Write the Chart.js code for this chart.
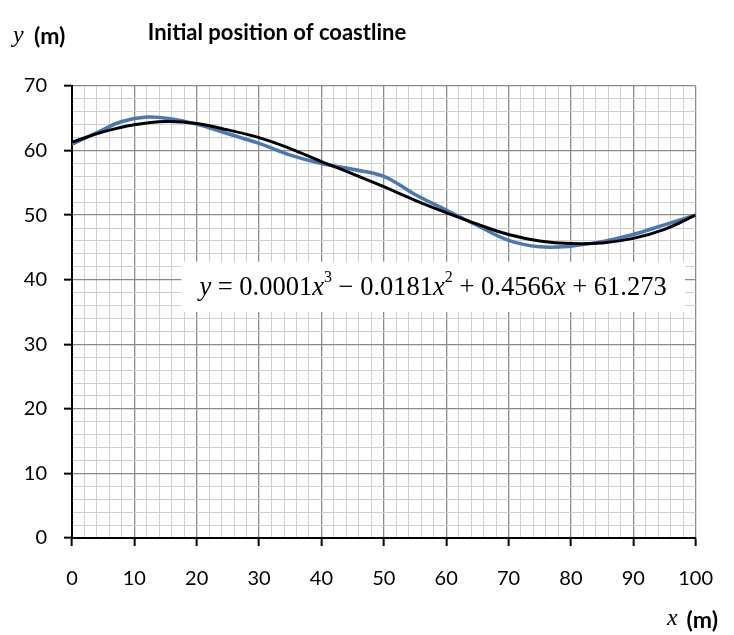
<!DOCTYPE html>
<html>
<head>
<meta charset="utf-8">
<script src="https://cdn.jsdelivr.net/npm/chart.js@4.4.0/dist/chart.umd.min.js"></script>
<style>
html,body{margin:0;padding:0;background:#fff;}
#wrap{position:relative;width:734px;height:635px;}
</style>
</head>
<body>
<div id="wrap"><canvas id="c" width="734" height="635"></canvas></div>
<script>
// Measured coastline (blue)
const measuredX = [0, 4, 8, 12, 16, 20, 25, 30, 35, 40, 45, 50, 55, 60, 65, 70, 75, 80, 85, 90, 95, 100];
const measuredY = [61.0, 62.8, 64.5, 65.2, 64.9, 64.1, 62.6, 61.1, 59.3, 58.0, 57.1, 56.0, 53.2, 50.8, 48.4, 46.1, 45.1, 45.2, 45.9, 47.0, 48.5, 50.0];
// Cubic trend line (black)
const trendX = [0, 5, 10, 15, 20, 25, 30, 35, 40, 45, 50, 55, 60, 65, 70, 75, 80, 85, 90, 95, 100];
const trendY = [61.3, 62.9, 64.0, 64.5, 64.2, 63.2, 62.0, 60.3, 58.3, 56.4, 54.4, 52.3, 50.4, 48.6, 47.0, 46.0, 45.6, 45.7, 46.4, 47.8, 50.0];
const xTickLabels = [0, 10, 20, 30, 40, 50, 60, 70, 80, 90, 100];
const yTickLabels = [0, 10, 20, 30, 40, 50, 60, 70];
const titleText = 'Initial position of coastline';
const equationParts = [
  ['y', 'i'], [' = 0.0001', 'r'], ['x', 'i'], ['3', 's'], [' \u2212 0.0181', 'r'], ['x', 'i'], ['2', 's'],
  [' + 0.4566', 'r'], ['x', 'i'], [' + 61.273', 'r']
];

const toPts = (xs, ys) => xs.map((x, i) => ({x: x, y: ys[i]}));

const SANS = 'Lato, "Open Sans", sans-serif';
const SERIF = '"Liberation Serif", "DejaVu Serif", serif';

const isMajor = (ctx) => Math.round(ctx.tick ? ctx.tick.value : 0) % 10 === 0;
const gridColor = (ctx) => isMajor(ctx) ? '#8a8a8a' : '#d0d0d0';
const gridWidth = (ctx) => isMajor(ctx) ? 1.3 : 1;
const tickColor = (ctx) => isMajor(ctx) ? '#000' : 'rgba(0,0,0,0)';

const textPlugin = {
  id: 'texts',
  afterDraw(chart) {
    const c = chart.ctx;
    c.save();
    c.fillStyle = '#000';
    c.textBaseline = 'middle';
    // title
    c.font = 'bold 22px ' + SANS;
    c.textAlign = 'center';
    c.fillText(titleText, 277, 33);
    // y axis title
    c.textAlign = 'left';
    c.font = 'italic 24px ' + SERIF;
    c.fillText('y', 13, 36);
    c.font = 'bold 23px ' + SANS;
    c.fillText('(m)', 34, 37);
    // x axis title
    c.font = 'bold 23px ' + SANS;
    const wm = c.measureText('(m)').width;
    c.fillText('(m)', 718 - wm, 621);
    c.font = 'italic 24px ' + SERIF;
    const wx = c.measureText('x').width;
    c.fillText('x', 718 - wm - 9 - wx, 619);
    // equation box
    const xs = chart.scales.x, ys = chart.scales.y;
    const bx = xs.getPixelForValue(17.5), bx2 = xs.getPixelForValue(98.3);
    const by = ys.getPixelForValue(42.8), by2 = ys.getPixelForValue(35);
    c.fillStyle = '#fff';
    c.fillRect(bx, by, bx2 - bx, by2 - by);
    c.fillStyle = '#000';
    const fonts = {i: 'italic 26.5px ' + SERIF, r: '26.5px ' + SERIF, s: '16px ' + SERIF};
    let total = 0;
    equationParts.forEach(p => { c.font = fonts[p[1]]; total += c.measureText(p[0]).width; });
    let cx = (bx + bx2) / 2 - total / 2;
    const cy = (by + by2) / 2 + 1;
    equationParts.forEach(p => {
      c.font = fonts[p[1]];
      c.fillText(p[0], cx, p[1] === 's' ? cy - 10 : cy);
      cx += c.measureText(p[0]).width;
    });
    c.restore();
  }
};

new Chart(document.getElementById('c'), {
  type: 'line',
  data: {
    datasets: [
      {
        label: 'Trend',
        data: toPts(trendX, trendY),
        borderColor: '#000000',
        borderWidth: 3,
        pointRadius: 0,
        tension: 0.4,
        fill: false,
        order: 0
      },
      {
        label: 'Coastline',
        data: toPts(measuredX, measuredY),
        borderColor: '#4a78b0',
        borderWidth: 3.5,
        pointRadius: 0,
        tension: 0.4,
        fill: false,
        order: 1
      }
    ]
  },
  options: {
    responsive: false,
    animation: false,
    devicePixelRatio: 1,
    layout: {padding: {left: 0, right: 35, top: 86, bottom: 0}},
    plugins: {legend: {display: false}, title: {display: false}, tooltip: {enabled: false}},
    scales: {
      x: {
        type: 'linear',
        min: 0, max: 100,
        afterFit(s) { s.height = 97; },
        border: {display: true, color: '#000', width: 2},
        grid: {color: gridColor, lineWidth: gridWidth, drawTicks: true, tickLength: 8, tickColor: tickColor, tickWidth: 2},
        ticks: {
          stepSize: 2, autoSkip: false, maxRotation: 0, padding: 21,
          color: '#000', font: {family: SANS, size: 20},
          callback: (v) => xTickLabels.includes(v) ? String(v) : ''
        }
      },
      y: {
        type: 'linear',
        min: 0, max: 70,
        afterFit(s) { s.width = 72; },
        border: {display: true, color: '#000', width: 2},
        grid: {color: gridColor, lineWidth: gridWidth, drawTicks: true, tickLength: 8, tickColor: tickColor, tickWidth: 2},
        ticks: {
          stepSize: 2, autoSkip: false, padding: 17,
          color: '#000', font: {family: SANS, size: 20},
          callback: (v) => yTickLabels.includes(v) ? String(v) : ''
        }
      }
    }
  },
  plugins: [textPlugin]
});
</script>
</body>
</html>
